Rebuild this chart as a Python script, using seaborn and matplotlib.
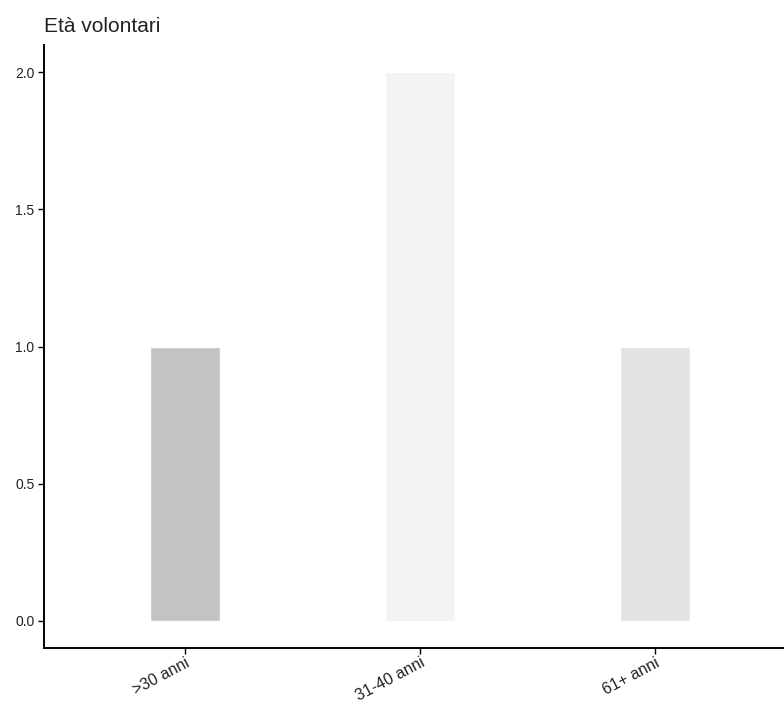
import matplotlib
matplotlib.use("Agg")
import matplotlib.pyplot as plt
import seaborn as sns
import pandas as pd

categories = [">30 anni", "31-40 anni", "61+ anni"]
values = [1, 2, 1]
colors = ["#c3c3c3", "#f3f3f3", "#e3e3e3"]
yticks = [0.0, 0.5, 1.0, 1.5, 2.0]

df = pd.DataFrame({"cat": categories, "val": values})

sns.set_style("white")
plt.rcParams['font.family'] = ['Liberation Sans', 'DejaVu Sans']

fig = plt.figure(figsize=(7.84, 7.04), dpi=100)
ax = fig.add_axes([44/784, 56/704, 752/784, 603/704])
sns.barplot(data=df, x="cat", y="val", hue="cat", palette=colors,
            width=0.3, legend=False, ax=ax, saturation=1)
ax.set_xlim(-0.6, 2.6)
ax.set_ylim(-0.1, 2.1)
ax.set_yticks(yticks)
ax.set_yticklabels([f"{t:.1f}" for t in yticks], fontsize=10, color="#222222")
ax.set_xticks(range(len(categories)))
ax.set_xticklabels(categories, rotation=28, ha="right", rotation_mode="anchor",
                   fontsize=11.5, color="#222222")
ax.set_xlabel("")
ax.set_ylabel("")
for s in ["top", "right"]:
    ax.spines[s].set_visible(False)
for s in ["left", "bottom"]:
    ax.spines[s].set_linewidth(1.4)
    ax.spines[s].set_color("black")
ax.tick_params(axis="both", bottom=True, left=True, length=4, width=1,
               color="black", direction="out", pad=3)
ax.tick_params(axis="x", pad=1)
fig.text(44/784, 1 - 27/704, "Età volontari", fontsize=15, ha="left", va="center", color="#222222")
fig.savefig("out.png", dpi=100)
